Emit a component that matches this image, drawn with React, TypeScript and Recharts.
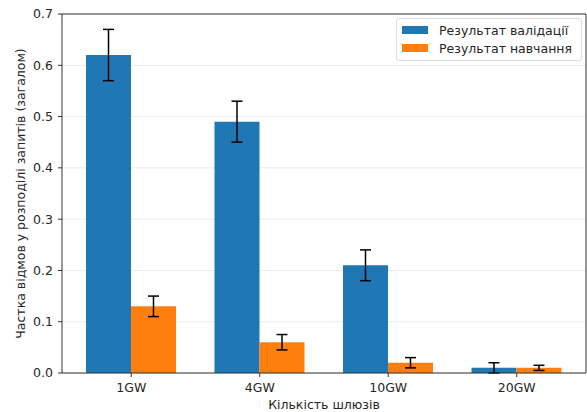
import {
  BarChart,
  Bar,
  XAxis,
  YAxis,
  CartesianGrid,
  Legend,
  ErrorBar,
  Label,
} from "recharts";

const categories = ["1GW", "4GW", "10GW", "20GW"];
const validation = [0.62, 0.49, 0.21, 0.01];
const validationErr = [0.05, 0.04, 0.03, 0.01];
const training = [0.13, 0.06, 0.02, 0.01];
const trainingErr = [0.02, 0.015, 0.01, 0.005];
const yTicks = [0, 0.1, 0.2, 0.3, 0.4, 0.5, 0.6, 0.7];

const data = categories.map((name, i) => ({
  name,
  val: validation[i],
  valErr: validationErr[i],
  train: training[i],
  trainErr: trainingErr[i],
}));

const FONT = "'DejaVu Sans', sans-serif";
const FS = 12.5;
const TEXT = "#262626";
const AXIS = "#333333";

function LegendBox() {
  const items = [
    { label: "Результат валідації", color: "#1f77b4" },
    { label: "Результат навчання", color: "#ff7f0e" },
  ];
  return (
    <div
      style={{
        border: "1px solid #dcdcdc",
        borderRadius: 3,
        background: "rgba(255,255,255,0.8)",
        padding: "2px 9px 3px 5px",
        fontFamily: FONT,
        fontSize: FS,
        color: TEXT,
        whiteSpace: "nowrap",
      }}
    >
      {items.map((it) => (
        <div
          key={it.label}
          style={{ display: "flex", alignItems: "center", height: 18 }}
        >
          <span
            style={{
              display: "inline-block",
              width: 26,
              height: 8,
              background: it.color,
              marginRight: 11,
            }}
          />
          <span>{it.label}</span>
        </div>
      ))}
    </div>
  );
}

export default function App() {
  return (
    <div style={{ position: "absolute", left: 0, top: 0, background: "#fff" }}>
      <BarChart
        width={587}
        height={412}
        data={data}
        margin={{ top: 13, right: 0, bottom: 0, left: 0 }}
        barGap={0}
        barSize={45}
      >
        <CartesianGrid vertical={false} stroke="#ebebeb" strokeWidth={1} />
        <XAxis
          dataKey="name"
          padding={{ left: 5, right: 5 }}
          height={39}
          axisLine={{ stroke: AXIS }}
          tickLine={{ stroke: AXIS }}
          tickSize={4}
          tickMargin={6}
          tick={{ fill: TEXT, fontSize: FS, fontFamily: FONT }}
        >
          <Label
            value="Кількість шлюзів"
            position="insideBottom"
            offset={3}
            style={{ fill: TEXT, fontSize: FS, fontFamily: FONT }}
          />
        </XAxis>
        <XAxis
          xAxisId="top"
          type="number"
          domain={[0, 1]}
          orientation="top"
          height={1}
          tick={false}
          tickLine={false}
          axisLine={{ stroke: AXIS }}
        />
        <YAxis
          width={62}
          domain={[0, 0.7]}
          ticks={yTicks}
          interval={0}
          axisLine={{ stroke: AXIS }}
          tickLine={{ stroke: AXIS }}
          tickSize={4}
          tickMargin={5}
          tickFormatter={(v: number) => v.toFixed(1)}
          tick={{ fill: TEXT, fontSize: FS, fontFamily: FONT }}
        >
          <Label
            content={({ viewBox }: any) => {
              const cx = viewBox.x + 20;
              const cy = viewBox.y + viewBox.height / 2;
              return (
                <text
                  x={cx}
                  y={cy}
                  transform={`rotate(-90 ${cx} ${cy})`}
                  textAnchor="middle"
                  dominantBaseline="central"
                  fill={TEXT}
                  fontSize={FS}
                  fontFamily={FONT}
                >
                  Частка відмов у розподілі запитів (загалом)
                </text>
              );
            }}
          />
        </YAxis>
        <YAxis
          yAxisId="right"
          type="number"
          domain={[0, 0.7]}
          orientation="right"
          width={1}
          tick={false}
          tickLine={false}
          axisLine={{ stroke: AXIS }}
        />
        <Legend
          verticalAlign="middle"
          align="center"
          layout="vertical"
          content={() => <LegendBox />}
          wrapperStyle={{ top: 18, right: 5, left: "auto", width: "auto" }}
        />
        <Bar
          dataKey="val"
          name="Результат валідації"
          fill="#1f77b4"
          isAnimationActive={false}
        >
          <ErrorBar
            dataKey="valErr"
            direction="y"
            width={5.5}
            stroke="#000"
            strokeWidth={1.5}
          />
        </Bar>
        <Bar
          dataKey="train"
          name="Результат навчання"
          fill="#ff7f0e"
          isAnimationActive={false}
        >
          <ErrorBar
            dataKey="trainErr"
            direction="y"
            width={5.5}
            stroke="#000"
            strokeWidth={1.5}
          />
        </Bar>
      </BarChart>
    </div>
  );
}
